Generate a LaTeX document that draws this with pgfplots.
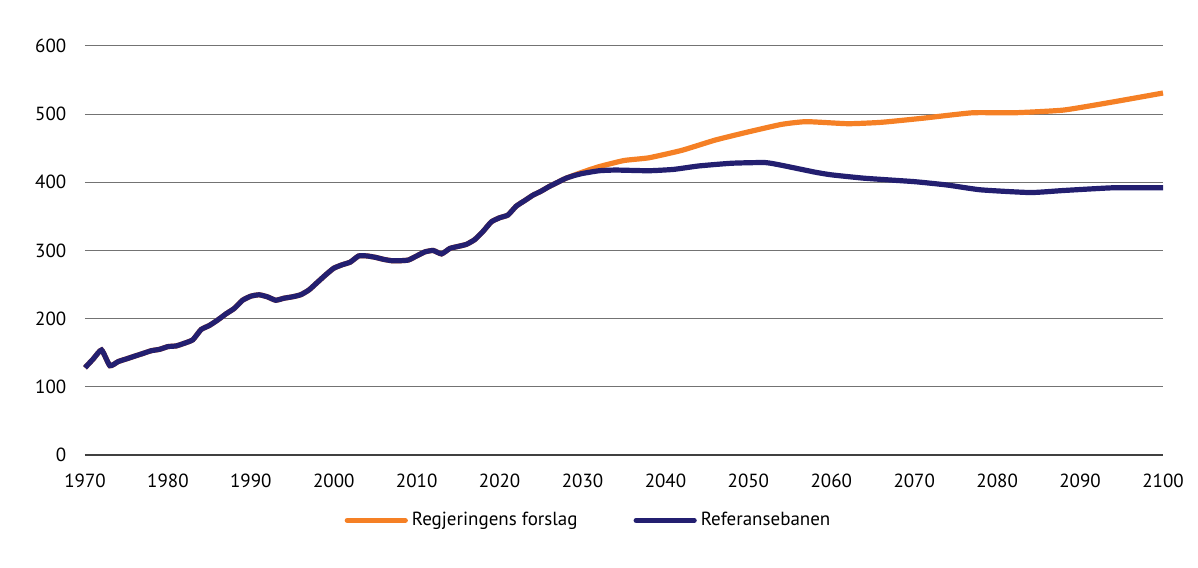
\documentclass[border=0pt]{standalone}
\usepackage{fontspec}
\setmainfont{PT Sans}
\usepackage{pgfplots}
\pgfplotsset{compat=1.18}
\definecolor{forslag}{HTML}{F58025}
\definecolor{referanse}{HTML}{231F70}
\begin{document}
\fontsize{9.5}{11}\selectfont
\begin{tikzpicture}
\begin{axis}[
  scale only axis,
  width=539pt, height=204.5pt,
  xmin=1970, xmax=2100, ymin=0, ymax=600,
  xtick={1970,1980,...,2100}, ytick={0,100,...,600},
  axis x line*=bottom, axis y line*=left,
  x axis line style={draw=black!75, line width=0.6pt, -},
  y axis line style={draw=none},
  ymajorgrids=true,
  grid style={draw=black!55, line width=0.5pt},
  major tick length=0pt,
  tick label style={/pgf/number format/assume math mode=true, font=\fontsize{9.5}{11}\selectfont},
  xticklabel style={/pgf/number format/1000 sep={}},
  xticklabel shift=6pt,
  yticklabel style={xshift=-6pt},
  legend columns=2,
  legend cell align=left,
  legend style={draw=none, fill=none, at={(0.468,-0.16)}, anchor=center,
    font=\fontsize{9.5}{11}\selectfont,
    /tikz/every even column/.append style={column sep=26pt}},
  legend image code/.code={\draw[#1, line cap=round] (0pt,0pt) -- (29pt,0pt);},
  clip=false,
]
\addplot[forslag, line width=2.6pt, smooth, tension=0.3] coordinates {
(1970,128)(1971,141)(1972,154)(1973,131)(1974,137)(1975,141)(1976,145)(1977,149)
(1978,153)(1979,155)(1980,159)(1981,160)(1982,164)(1983,169)(1984,184)(1985,190)
(1986,198)(1987,207)(1988,215)(1989,227)(1990,233)(1991,235)(1992,232)(1993,227)
(1994,230)(1995,232)(1996,235)(1997,242)(1998,253)(1999,264)(2000,274)(2001,279)
(2002,283)(2003,292)(2004,292)(2005,290)(2006,287)(2007,285)(2008,285)(2009,286)
(2010,292)(2011,298)(2012,300)(2013,295)(2014,303)(2015,306)(2016,309)(2017,316)
(2018,328)(2019,342)(2020,348)(2021,352)(2022,365)(2023,373)(2024,381)(2025,387)
(2026,394)(2027,400)(2028,406)(2030,415)(2032,423)(2035,432)(2038,436)(2042,447)
(2046,462)(2050,474)(2054,485)(2057,489)(2062,486)(2066,488)(2071,494)(2077,502)
(2082,502)(2088,506)(2094,518)(2100,531)};
\addlegendentry{Regjeringens forslag}
\addplot[referanse, line width=2.6pt, smooth, tension=0.3] coordinates {
(1970,128)(1971,141)(1972,154)(1973,131)(1974,137)(1975,141)(1976,145)(1977,149)
(1978,153)(1979,155)(1980,159)(1981,160)(1982,164)(1983,169)(1984,184)(1985,190)
(1986,198)(1987,207)(1988,215)(1989,227)(1990,233)(1991,235)(1992,232)(1993,227)
(1994,230)(1995,232)(1996,235)(1997,242)(1998,253)(1999,264)(2000,274)(2001,279)
(2002,283)(2003,292)(2004,292)(2005,290)(2006,287)(2007,285)(2008,285)(2009,286)
(2010,292)(2011,298)(2012,300)(2013,295)(2014,303)(2015,306)(2016,309)(2017,316)
(2018,328)(2019,342)(2020,348)(2021,352)(2022,365)(2023,373)(2024,381)(2025,387)
(2026,394)(2027,400)(2028,406)(2029,410)(2030,413)(2032,417)(2034,418)(2038,417)
(2041,419)(2044,424)(2048,428)(2052,429)(2054,425)(2058,415)(2060,411)(2064,406)
(2070,401)(2074,396)(2078,389)(2084,385)(2088,388)(2094,392)(2100,392)};
\addlegendentry{Referansebanen}
\end{axis}
\pgfresetboundingbox
\path (current axis.south west) ++(-42.5pt,-56.5pt) rectangle ([shift={(17.5pt,23pt)}]current axis.north east);
\end{tikzpicture}
\end{document}
